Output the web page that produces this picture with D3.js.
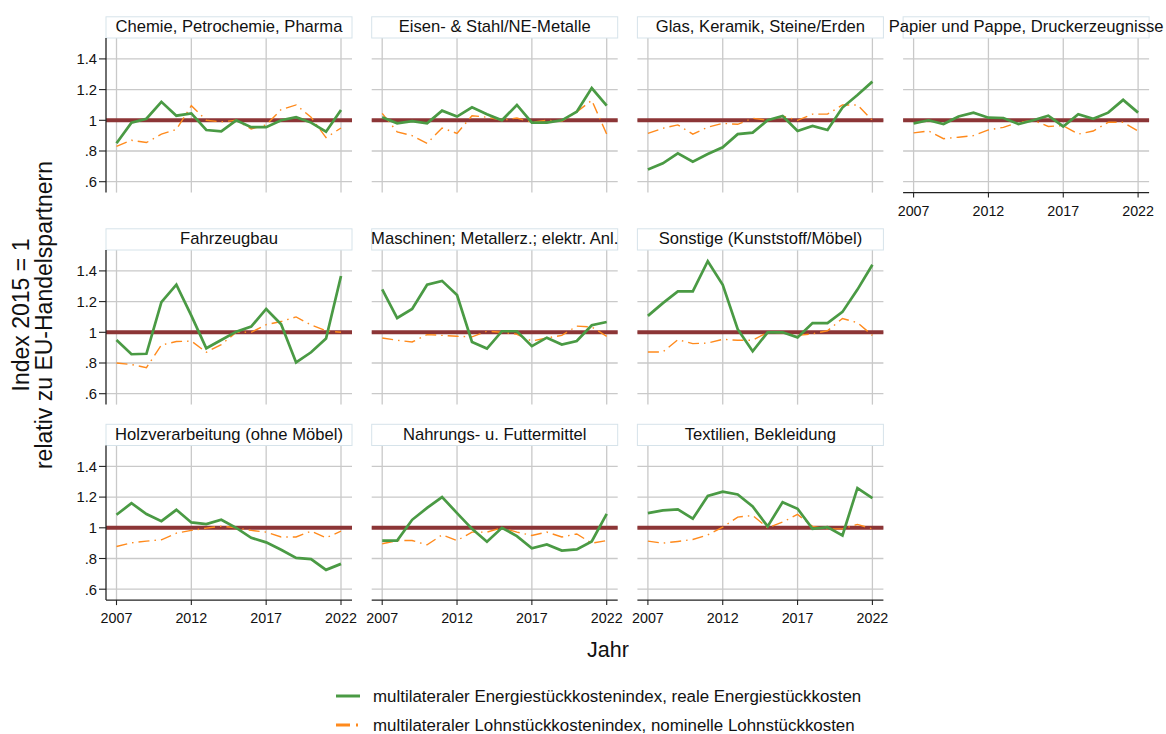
<!DOCTYPE html>
<html>
<head>
<meta charset="utf-8">
<script src="https://cdn.jsdelivr.net/npm/d3@7"></script>
<style>
  body { margin: 0; background: #fff; }
  svg { display: block; }
  text { font-family: "Liberation Sans", Arial, sans-serif; fill: #111; }
</style>
</head>
<body>
<svg id="chart" width="1166" height="734"></svg>
<script>
// Jahre (x-Achse)
const years = [2007, 2008, 2009, 2010, 2011, 2012, 2013, 2014, 2015, 2016, 2017, 2018, 2019, 2020, 2021, 2022];

// Achsenbeschriftungen
const yTicks = [0.6, 0.8, 1.0, 1.2, 1.4];
const yTickLabels = [".6", ".8", "1", "1.2", "1.4"];
const xTicks = [2007, 2012, 2017, 2022];
const xTickLabels = ["2007", "2012", "2017", "2022"];

// Branchen
const sectors = [
  "Chemie, Petrochemie, Pharma",
  "Eisen- & Stahl/NE-Metalle",
  "Glas, Keramik, Steine/Erden",
  "Papier und Pappe, Druckerzeugnisse",
  "Fahrzeugbau",
  "Maschinen; Metallerz.; elektr. Anl.",
  "Sonstige (Kunststoff/Möbel)",
  "Holzverarbeitung (ohne Möbel)",
  "Nahrungs- u. Futtermittel",
  "Textilien, Bekleidung"
];

// Energiestückkosten (real) und Lohnstückkosten (nominal), Index 2015 = 1
const chemieEnergie   = [0.85, 0.985, 1.01, 1.12, 1.03, 1.045, 0.937, 0.928, 1.0, 0.955, 0.955, 1.0, 1.02, 0.985, 0.926, 1.067];
const chemieLohn      = [0.83, 0.87, 0.855, 0.91, 0.94, 1.095, 1.0, 0.99, 1.0, 0.944, 0.97, 1.07, 1.1, 1.02, 0.887, 0.95];
const eisenEnergie    = [1.02, 0.98, 0.995, 0.98, 1.063, 1.024, 1.085, 1.04, 1.0, 1.10, 0.985, 0.985, 1.0, 1.056, 1.21, 1.095];
const eisenLohn       = [1.045, 0.925, 0.90, 0.85, 0.95, 0.915, 1.03, 1.02, 1.0, 1.015, 0.987, 1.0, 0.993, 1.055, 1.13, 0.91];
const glasEnergie     = [0.68, 0.72, 0.785, 0.73, 0.78, 0.824, 0.91, 0.92, 1.0, 1.028, 0.93, 0.963, 0.937, 1.083, 1.165, 1.252];
const glasLohn        = [0.915, 0.948, 0.97, 0.91, 0.955, 0.98, 0.974, 1.013, 1.0, 1.028, 1.0, 1.04, 1.04, 1.1, 1.1, 1.0];
const papierEnergie   = [0.98, 1.0, 0.976, 1.025, 1.05, 1.017, 1.015, 0.976, 1.0, 1.03, 0.96, 1.04, 1.01, 1.05, 1.133, 1.05];
const papierLohn      = [0.918, 0.93, 0.88, 0.89, 0.9, 0.937, 0.954, 0.987, 1.0, 0.96, 0.965, 0.91, 0.93, 0.987, 0.987, 0.93];
const fahrzeugEnergie = [0.95, 0.857, 0.86, 1.196, 1.31, 1.109, 0.896, 0.95, 1.004, 1.037, 1.152, 1.052, 0.804, 0.87, 0.96, 1.367];
const fahrzeugLohn    = [0.8, 0.79, 0.77, 0.917, 0.94, 0.943, 0.87, 0.92, 1.0, 1.0, 1.05, 1.07, 1.1, 1.048, 1.01, 1.0];
const maschinenEnergie = [1.28, 1.093, 1.152, 1.31, 1.335, 1.243, 0.937, 0.894, 1.007, 1.007, 0.91, 0.965, 0.92, 0.943, 1.046, 1.067];
const maschinenLohn    = [0.963, 0.948, 0.937, 0.985, 0.98, 0.974, 0.97, 1.007, 1.0, 0.987, 0.943, 0.963, 0.98, 1.04, 1.035, 0.974];
const sonstigeEnergie = [1.107, 1.19, 1.267, 1.267, 1.463, 1.31, 1.02, 0.876, 1.0, 1.0, 0.967, 1.06, 1.06, 1.133, 1.278, 1.44];
const sonstigeLohn    = [0.872, 0.872, 0.952, 0.926, 0.93, 0.954, 0.948, 0.948, 1.0, 0.996, 0.98, 0.99, 1.01, 1.09, 1.063, 0.98];
const holzEnergie     = [1.085, 1.16, 1.09, 1.043, 1.117, 1.035, 1.024, 1.052, 1.0, 0.935, 0.905, 0.857, 0.804, 0.796, 0.726, 0.765];
const holzLohn        = [0.878, 0.902, 0.913, 0.922, 0.965, 0.983, 0.998, 1.01, 1.0, 0.983, 0.972, 0.94, 0.94, 0.978, 0.935, 0.978];
const nahrungEnergie  = [0.917, 0.917, 1.052, 1.13, 1.2, 1.096, 0.993, 0.909, 1.0, 0.946, 0.867, 0.891, 0.852, 0.859, 0.911, 1.091];
const nahrungLohn     = [0.896, 0.917, 0.917, 0.889, 0.954, 0.917, 0.972, 0.972, 1.0, 0.972, 0.95, 0.972, 0.94, 0.96, 0.9, 0.917];
const textilEnergie   = [1.096, 1.113, 1.12, 1.059, 1.207, 1.235, 1.217, 1.139, 1.009, 1.167, 1.124, 0.993, 1.004, 0.95, 1.259, 1.193];
const textilLohn      = [0.913, 0.9, 0.911, 0.924, 0.954, 1.004, 1.07, 1.08, 1.0, 1.037, 1.087, 1.009, 0.993, 0.993, 1.022, 0.993];

const energieSeries = [chemieEnergie, eisenEnergie, glasEnergie, papierEnergie, fahrzeugEnergie,
  maschinenEnergie, sonstigeEnergie, holzEnergie, nahrungEnergie, textilEnergie];
const lohnSeries = [chemieLohn, eisenLohn, glasLohn, papierLohn, fahrzeugLohn,
  maschinenLohn, sonstigeLohn, holzLohn, nahrungLohn, textilLohn];

const legendLabels = [
  "multilateraler Energiestückkostenindex, reale Energiestückkosten",
  "multilateraler Lohnstückkostenindex, nominelle Lohnstückkosten"
];

// Farben und Layout
const GREEN = "#4a9a44";
const ORANGE = "#ff8a1c";
const REF = "#8c3536";
const GRID = "#c9c9c9";
const DASH = "11,5,1.5,5";

const svg = d3.select("#chart");

const colLeft = c => 106 + c * 265.7;
const rowOne = [120.3, 332.3, 527.8];   // y-Position des Werts 1 je Zeile
const plotW = 246;
const padX0 = 10.5, padX1 = 235;
const halfSpan = 61.4;                  // Abstand 1 -> 1.4 in px
const topOff = 82.3, bottomOff = 72.3;

const layout = [
  [0, 0], [0, 1], [0, 2], [0, 3],
  [1, 0], [1, 1], [1, 2],
  [2, 0], [2, 1], [2, 2]
];
const withXAxis = [3, 7, 8, 9];

sectors.forEach((title, i) => {
  const [r, c] = layout[i];
  const left = colLeft(c);
  const y1 = rowOne[r];
  const top = y1 - topOff, bottom = y1 + bottomOff;

  const x = d3.scaleLinear().domain([2007, 2022]).range([left + padX0, left + padX1]);
  const y = d3.scaleLinear().domain([0.6, 1.4]).range([y1 + halfSpan, y1 - halfSpan]);

  const g = svg.append("g");

  // Gitter
  g.selectAll(".hg").data(yTicks).join("line")
    .attr("x1", left).attr("x2", left + plotW)
    .attr("y1", d => y(d)).attr("y2", d => y(d))
    .attr("stroke", GRID).attr("stroke-width", 1.3);
  g.selectAll(".vg").data(xTicks).join("line")
    .attr("x1", d => x(d)).attr("x2", d => x(d))
    .attr("y1", top).attr("y2", bottom)
    .attr("stroke", GRID).attr("stroke-width", 1.3);

  // Referenzlinie bei 1
  g.append("line")
    .attr("x1", left).attr("x2", left + plotW)
    .attr("y1", y(1)).attr("y2", y(1))
    .attr("stroke", REF).attr("stroke-width", 4);

  const line = d3.line().x((d, k) => x(years[k])).y(d => y(d));

  g.append("path").datum(lohnSeries[i])
    .attr("d", line).attr("fill", "none")
    .attr("stroke", ORANGE).attr("stroke-width", 1.4)
    .attr("stroke-dasharray", DASH);

  g.append("path").datum(energieSeries[i])
    .attr("d", line).attr("fill", "none")
    .attr("stroke", GREEN).attr("stroke-width", 2.7)
    .attr("stroke-linejoin", "miter");

  // Titelbox
  g.append("rect")
    .attr("x", left).attr("y", y1 - 103.5)
    .attr("width", plotW).attr("height", 21.2)
    .attr("fill", "#fff").attr("stroke", "#d6e3ea").attr("stroke-width", 1);
  g.append("text")
    .attr("x", left + plotW / 2).attr("y", y1 - 88.2)
    .attr("text-anchor", "middle").attr("font-size", 16.6)
    .text(title);

  // y-Achse in der ersten Spalte
  if (c === 0) {
    g.append("line").attr("x1", left).attr("x2", left)
      .attr("y1", top).attr("y2", bottom)
      .attr("stroke", "#222").attr("stroke-width", 1.3);
    g.selectAll(".yt").data(yTicks).join("line")
      .attr("x1", left - 7).attr("x2", left)
      .attr("y1", d => y(d)).attr("y2", d => y(d))
      .attr("stroke", "#222").attr("stroke-width", 1.1);
    g.selectAll(".yl").data(yTicks).join("text")
      .attr("x", left - 9).attr("y", d => y(d))
      .attr("dy", "0.36em").attr("text-anchor", "end")
      .attr("font-size", 14.8)
      .text((d, k) => yTickLabels[k]);
  }

  // x-Achse
  if (withXAxis.includes(i)) {
    g.append("line").attr("x1", left).attr("x2", left + plotW)
      .attr("y1", bottom).attr("y2", bottom)
      .attr("stroke", "#222").attr("stroke-width", 1.3);
    g.selectAll(".xt").data(xTicks).join("line")
      .attr("x1", d => x(d)).attr("x2", d => x(d))
      .attr("y1", bottom).attr("y2", bottom + 5)
      .attr("stroke", "#222").attr("stroke-width", 1.1);
    g.selectAll(".xl").data(xTicks).join("text")
      .attr("x", d => x(d)).attr("y", bottom + 23)
      .attr("text-anchor", "middle").attr("font-size", 14.3)
      .text((d, k) => xTickLabels[k]);
  }
});

// Achsentitel
const yTitle = svg.append("g").attr("transform", "translate(0,315)");
yTitle.append("text").attr("transform", "translate(21,0) rotate(-90)")
  .attr("text-anchor", "middle").attr("dominant-baseline", "central")
  .attr("font-size", 23).text("Index 2015 = 1");
yTitle.append("text").attr("transform", "translate(43.5,0) rotate(-90)")
  .attr("text-anchor", "middle").attr("dominant-baseline", "central")
  .attr("font-size", 23).text("relativ zu EU-Handelspartnern");

svg.append("text").attr("x", 608).attr("y", 650)
  .attr("text-anchor", "middle").attr("dominant-baseline", "central")
  .attr("font-size", 21.5).text("Jahr");

// Legende
const leg = svg.append("g");
leg.append("line").attr("x1", 336).attr("x2", 360).attr("y1", 696).attr("y2", 696)
  .attr("stroke", GREEN).attr("stroke-width", 3);
leg.append("line").attr("x1", 336).attr("x2", 360).attr("y1", 725).attr("y2", 725)
  .attr("stroke", ORANGE).attr("stroke-width", 3).attr("stroke-dasharray", "14,6,2,6");
leg.selectAll(".lt").data(legendLabels).join("text")
  .attr("x", 373).attr("y", (d, k) => 696 + k * 29)
  .attr("dominant-baseline", "central").attr("font-size", 16.9)
  .text(d => d);
</script>
</body>
</html>
